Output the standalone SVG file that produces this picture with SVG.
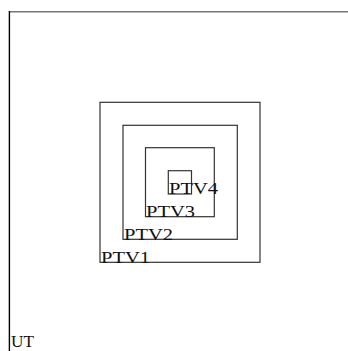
<svg xmlns="http://www.w3.org/2000/svg" width="348" height="351" viewBox="0 0 348 351">
<style>
.box{fill:none;stroke:#333;stroke-width:1.2}
.lbl{font-family:"Liberation Serif","DejaVu Serif",serif;font-size:16px;fill:#111}
</style>
<rect width="348" height="351" fill="#fff"/>
<g id="frame">
<line x1="9" y1="11.8" x2="348" y2="11.8" stroke="#777" stroke-width="1.6"/>
<line x1="9.4" y1="11" x2="9.4" y2="351" stroke="#000" stroke-width="1.4"/>
<text class="lbl" x="11" y="346.5" textLength="23" lengthAdjust="spacingAndGlyphs">UT</text>
</g>
<g id="ptv1">
<rect class="box" x="100" y="102.3" width="160" height="160"/>
<text class="lbl" x="101" y="262.5" textLength="49" lengthAdjust="spacingAndGlyphs">PTV1</text>
</g>
<g id="ptv2">
<rect class="box" x="123" y="125.3" width="114.3" height="114"/>
<text class="lbl" x="124" y="239.5" textLength="49" lengthAdjust="spacingAndGlyphs">PTV2</text>
</g>
<g id="ptv3">
<rect class="box" x="145.5" y="147.7" width="68.8" height="69"/>
<text class="lbl" x="146" y="217" textLength="49" lengthAdjust="spacingAndGlyphs">PTV3</text>
</g>
<g id="ptv4">
<rect class="box" x="168.3" y="170.7" width="23.2" height="23.3"/>
<text class="lbl" x="169" y="193.5" textLength="49" lengthAdjust="spacingAndGlyphs">PTV4</text>
</g>
</svg>
